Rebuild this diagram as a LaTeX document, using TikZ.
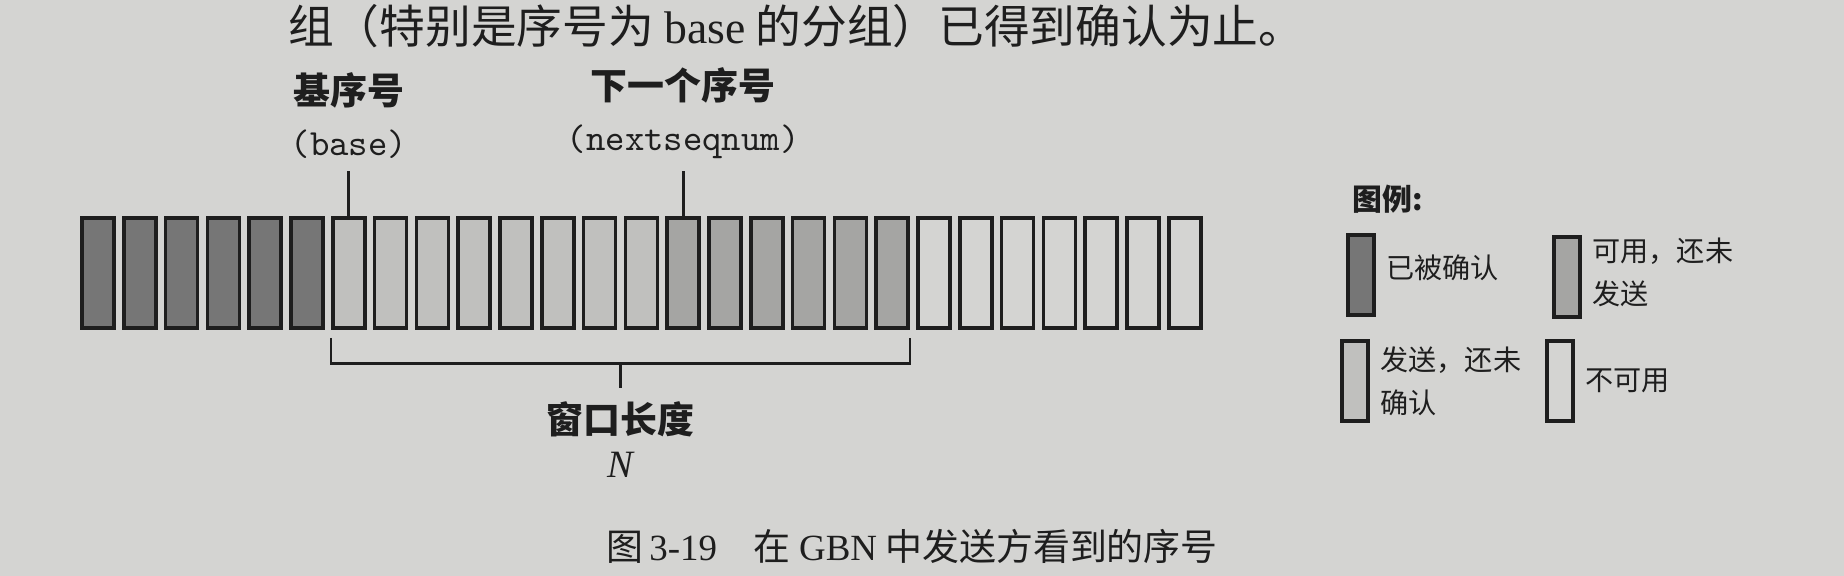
\documentclass[tikz,border=0pt]{standalone}
\usepackage{fontspec}
\setmainfont{Noto Sans CJK SC}
\newfontfamily\latin{Liberation Serif}
\usetikzlibrary{positioning}

\definecolor{paper}{RGB}{212,212,210}
\definecolor{ink}{RGB}{30,30,30}
\definecolor{ackedgray}{RGB}{118,118,118}
\definecolor{sentgray}{RGB}{192,192,190}
\definecolor{freegray}{RGB}{165,165,163}

\tikzset{
  pkt/.style={draw=ink, line width=1pt, minimum width=0.32cm, minimum height=1.1cm, inner sep=0pt},
  keybox/.style={draw=ink, line width=1pt, minimum width=0.26cm, minimum height=0.8cm, inner sep=0pt},
  lbl/.style={inner sep=0pt, text=ink, font=\fontsize{10.5}{12}\selectfont\bfseries},
  keytxt/.style={inner sep=0pt, text=ink, align=left, font=\fontsize{8}{12.3}\selectfont},
  tick/.style={draw=ink, line width=0.8pt},
}

\begin{document}
\begin{tikzpicture}[x=0.01cm, y=-0.01cm]
    \fill[paper] (0,0) rectangle (1844,576);
    \useasboundingbox (0,0) rectangle (1844,576);
    % text of the page above the figure
    \node[anchor=east, inner sep=0pt, text=ink, font=\fontsize{13}{15}\selectfont] (topline) at (1305,26) {组（特别是序号为 {\latin base} 的分组）已得到确认为止。};
    % row of sequence numbers
    \foreach \i in {1,...,6} {
        \node[pkt, fill=ackedgray] (p\i) at ({98+(\i-1)*41.8},273) {};
    }
    \foreach \i in {7,...,14} {
        \node[pkt, fill=sentgray] (p\i) at ({98+(\i-1)*41.8},273) {};
    }
    \foreach \i in {15,...,20} {
        \node[pkt, fill=freegray] (p\i) at ({98+(\i-1)*41.8},273) {};
    }
    \foreach \i in {21,...,27} {
        \node[pkt, fill=paper] (p\i) at ({98+(\i-1)*41.8},273) {};
    }
    % base and nextseqnum
    \draw[tick] (p7.north) -- ++(0,-45) coordinate (basetop);
    \node[lbl, font=\fontsize{10.5}{12}\ttfamily, above=0.12cm of basetop] (baseen) {(base)};
    \node[lbl, above=0.2cm of baseen] (basecn) {基序号};
    \draw[tick] (p15.north) -- ++(0,-45) coordinate (nexttop);
    \node[lbl, font=\fontsize{10.5}{12}\ttfamily, above=0.12cm of nexttop] (nexten) {(nextseqnum)};
    \node[lbl, above=0.2cm of nexten] (nextcn) {下一个序号};
    % window
    \draw[tick] ([yshift=-0.08cm]p7.south west) -- ++(0,26) -| ([yshift=-0.08cm]p20.south east);
    \path (p7.south west) -- (p20.south east) coordinate[midway] (winmid);
    \draw[tick] ([yshift=-0.34cm]winmid) -- ++(0,24) coordinate (winbot);
    \node[lbl, below=0.13cm of winbot] (wincn) {窗口长度};
    \node[inner sep=0pt, text=ink, font=\latin\itshape\fontsize{11}{12}\selectfont, below=0.14cm of wincn] (winn) {N};
    % legend
    \node[lbl, font=\fontsize{8.5}{10}\selectfont\bfseries, anchor=west] (keyttl) at (1352,199) {图例:};
    \node[keybox, fill=ackedgray] (kacked) at (1361,275) {};
    \node[keytxt, right=0.1cm of kacked, yshift=0.07cm] (tacked) {已被确认};
    \node[keybox, fill=freegray] (kfree) at (1567,277) {};
    \node[keytxt, right=0.1cm of kfree, yshift=0.05cm] (tfree) {可用，还未\\发送};
    \node[keybox, fill=sentgray] (ksent) at (1355,381) {};
    \node[keytxt, right=0.1cm of ksent] (tsent) {发送，还未\\确认};
    \node[keybox, fill=paper] (kunuse) at (1560,381) {};
    \node[keytxt, right=0.1cm of kunuse] (tunuse) {不可用};
    % caption
    \node[inner sep=0pt, text=ink, font=\fontsize{10.5}{12}\selectfont] (caption) at (912,546) {图\,{\latin 3-19}\quad 在 {\latin GBN} 中发送方看到的序号};
\end{tikzpicture}
\end{document}
